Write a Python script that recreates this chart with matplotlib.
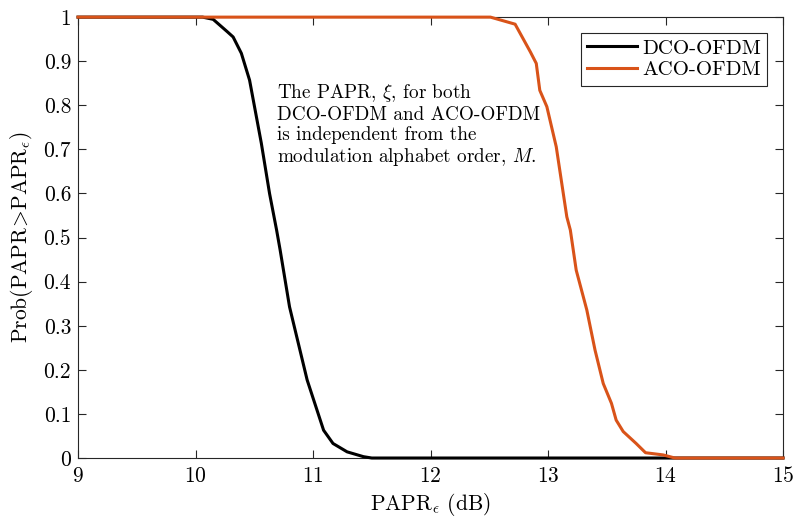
import matplotlib.pyplot as plt

plt.rcParams["font.family"] = "cmr10"
plt.rcParams["mathtext.fontset"] = "cm"
plt.rcParams["axes.formatter.use_mathtext"] = True
plt.rcParams["axes.unicode_minus"] = False

# CCDF of PAPR
dco_x = [9.0, 10.06, 10.15, 10.27, 10.32, 10.39, 10.46, 10.56, 10.63, 10.69,
         10.72, 10.80, 10.95, 11.09, 11.17, 11.29, 11.43, 11.5, 15.0]
dco_y = [1.0, 1.0, 0.995, 0.967, 0.955, 0.918, 0.857, 0.714, 0.60, 0.517,
         0.472, 0.343, 0.177, 0.063, 0.033, 0.014, 0.003, 0.0, 0.0]

aco_x = [9.0, 12.51, 12.72, 12.85, 12.90, 12.93, 12.99, 13.07, 13.16, 13.19,
         13.24, 13.33, 13.40, 13.47, 13.54, 13.58, 13.64, 13.75, 13.83, 13.98,
         14.08, 15.0]
aco_y = [1.0, 1.0, 0.984, 0.921, 0.895, 0.834, 0.797, 0.706, 0.547, 0.517,
         0.426, 0.336, 0.245, 0.169, 0.124, 0.086, 0.060, 0.033, 0.012, 0.007,
         0.0, 0.0]

x_ticks = [9, 10, 11, 12, 13, 14, 15]
y_ticks = [0, 0.1, 0.2, 0.3, 0.4, 0.5, 0.6, 0.7, 0.8, 0.9, 1]
y_tick_labels = ["0", "0.1", "0.2", "0.3", "0.4", "0.5", "0.6", "0.7", "0.8", "0.9", "1"]

note = ("The PAPR, $\\xi$, for both\n"
        "DCO-OFDM and ACO-OFDM\n"
        "is independent from the\n"
        "modulation alphabet order, $M$.")

fig = plt.figure(figsize=(7.93, 5.19), dpi=100)
ax = fig.add_axes([0.0984, 0.1175, 0.889, 0.8495])

ax.plot(dco_x, dco_y, color="black", linewidth=2.2, label="DCO-OFDM",
        clip_on=False, zorder=3)
ax.plot(aco_x, aco_y, color="#D95319", linewidth=2.2, label="ACO-OFDM",
        clip_on=False, zorder=4)

ax.set_xlim(9, 15)
ax.set_ylim(0, 1)
ax.set_xticks(x_ticks)
ax.set_yticks(y_ticks)
ax.set_yticklabels(y_tick_labels)
ax.tick_params(direction="in", top=True, right=True, length=5.5, width=0.8,
               colors="#262626", labelsize=15.5, labelcolor="black")
ax.tick_params(axis="x", pad=6)
ax.tick_params(axis="y", pad=5)
for s in ax.spines.values():
    s.set_color("#262626")
    s.set_linewidth(0.8)

ax.set_xlabel("PAPR$_\\epsilon$ (dB)", fontsize=15.5, labelpad=3)
ax.set_ylabel("Prob(PAPR$\\!>\\!$PAPR$_\\epsilon$)", fontsize=15.5, labelpad=6)

ax.text(10.69, 0.853, note, fontsize=13.8, va="top", ha="left", linespacing=1.15)

leg = ax.legend(loc="upper right", fontsize=15, fancybox=False, framealpha=1,
                edgecolor="#262626", borderaxespad=0.75, handlelength=2.4,
                handletextpad=0.25, borderpad=0.3, labelspacing=0.15)
leg.get_frame().set_linewidth(0.8)

fig.savefig("out.png", dpi=100)
